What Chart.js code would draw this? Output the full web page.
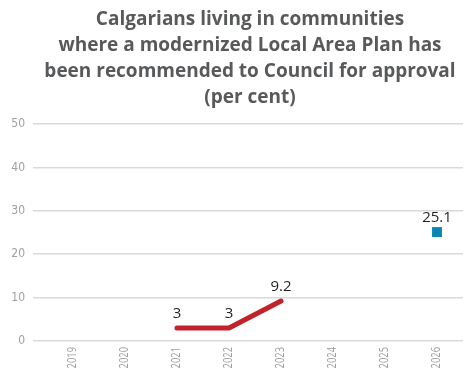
<!DOCTYPE html>
<html>
<head>
<meta charset="utf-8">
<script src="https://cdn.jsdelivr.net/npm/chart.js@4"></script>
<style>
  html, body { margin: 0; padding: 0; background: #fff; }
  #wrap { width: 474px; height: 375px; }
</style>
</head>
<body>
<div id="wrap"><canvas id="c"></canvas></div>
<script>
const years = ["2019", "2020", "2021", "2022", "2023", "2024", "2025", "2026"];
const actual = [null, null, 3, 3, 9.2, null, null, null];
const target = [null, null, null, null, null, null, null, 25.1];
const yTicks = [0, 10, 20, 30, 40, 50];

const titleLines = [
  "Calgarians living in communities",
  "where a modernized Local Area Plan has",
  "been recommended to Council for approval",
  "(per cent)"
];

const tickFont = "'Liberation Sans Narrow', 'DejaVu Sans Condensed', sans-serif";

// title drawn by hand so it can sit a bit right of centre, like the original
const titleBlock = {
  id: "titleBlock",
  afterDraw(chart) {
    const ctx = chart.ctx;
    ctx.save();
    ctx.font = "bold 19px 'Open Sans', sans-serif";
    ctx.fillStyle = "#58595b";
    ctx.textAlign = "center";
    ctx.textBaseline = "middle";
    titleLines.forEach((t, i) => ctx.fillText(t, 250, 20 + i * 26));
    ctx.restore();
  }
};

// rotated, squeezed year labels (the original uses a condensed face)
const yearLabels = {
  id: "yearLabels",
  afterDraw(chart) {
    const ctx = chart.ctx;
    const xs = chart.scales.x;
    const top = chart.chartArea.bottom + 6;
    ctx.save();
    ctx.font = "12px 'Open Sans', sans-serif";
    ctx.fillStyle = "#9d9fa2";
    ctx.textAlign = "right";
    ctx.textBaseline = "middle";
    chart.data.labels.forEach((lab, i) => {
      ctx.save();
      ctx.translate(xs.getPixelForValue(i), top);
      ctx.rotate(-Math.PI / 2);
      ctx.scale(0.78, 1);
      ctx.fillText(lab, 0, 0);
      ctx.restore();
    });
    ctx.restore();
  }
};

// value above each point
const valueLabels = {
  id: "valueLabels",
  afterDatasetsDraw(chart) {
    const ctx = chart.ctx;
    ctx.save();
    ctx.font = "15px 'Open Sans', sans-serif";
    ctx.fillStyle = "#231f20";
    ctx.textAlign = "center";
    ctx.textBaseline = "bottom";
    chart.data.datasets.forEach((ds, i) => {
      chart.getDatasetMeta(i).data.forEach((pt, j) => {
        const v = ds.data[j];
        if (v == null) return;
        ctx.fillText(String(v), pt.x, pt.y - 7);
      });
    });
    ctx.restore();
  }
};

new Chart(document.getElementById("c"), {
  type: "line",
  data: {
    labels: years,
    datasets: [
      {
        data: actual,
        borderColor: "#c1222c",
        borderWidth: 5,
        borderCapStyle: "round",
        borderJoinStyle: "round",
        pointRadius: 0,
        fill: false,
      },
      {
        data: target,
        showLine: false,
        pointStyle: "rect",
        pointRadius: 7,
        backgroundColor: "#0a84b4",
        borderColor: "#0a84b4",
        borderWidth: 0,
      },
    ],
  },
  options: {
    responsive: true,
    maintainAspectRatio: false,
    animation: false,
    layout: { padding: { left: 0, right: 11, top: 124, bottom: 0 } },
    scales: {
      x: {
        offset: true,
        grid: { display: false },
        border: { display: false },
        ticks: { display: false },
        afterFit(axis) { axis.height = 34; },
      },
      y: {
        min: 0,
        max: 50,
        afterBuildTicks(axis) { axis.ticks = yTicks.map(v => ({ value: v })); },
        grid: { color: "#d9d9d9", lineWidth: 1.5, drawTicks: true, tickLength: 14 },
        border: { display: false },
        ticks: {
          color: "#9d9fa2",
          font: { family: tickFont, size: 12 },
          padding: 8,
        },
        afterFit(axis) { axis.width = 47; },
      },
    },
    plugins: {
      legend: { display: false },
      tooltip: { enabled: false },
      title: { display: false },
    },
  },
  plugins: [valueLabels, yearLabels, titleBlock],
});
</script>
</body>
</html>
